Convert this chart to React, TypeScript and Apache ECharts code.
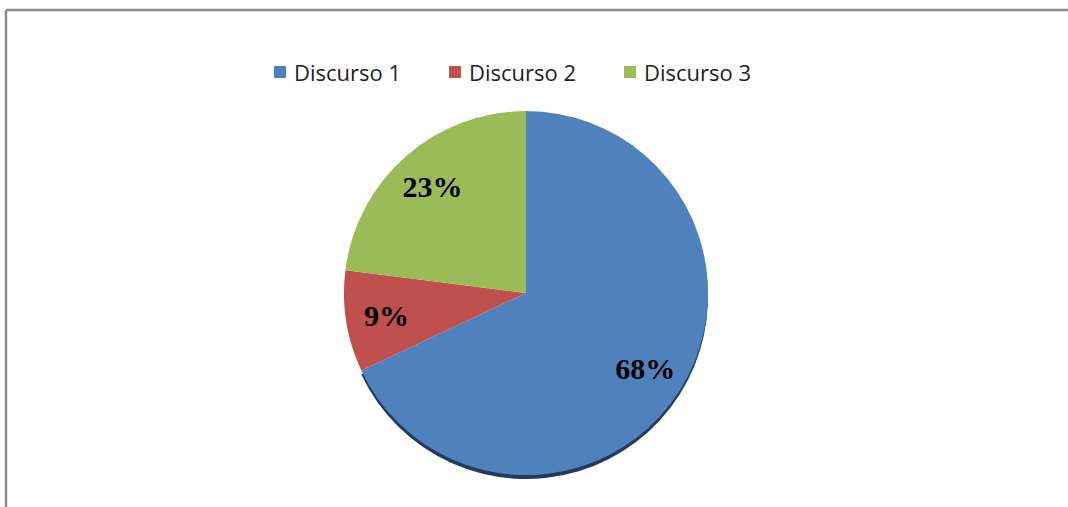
import React, { useEffect, useRef } from "react";
import * as echarts from "echarts";

const categories = ["Discurso 1", "Discurso 2", "Discurso 3"];
const values = [68, 9, 23];
const colors = ["#4F81BD", "#C0504D", "#9BBB59"];

export default function App() {
  const ref = useRef<HTMLDivElement>(null);
  useEffect(() => {
    document.body.style.margin = "0";
    const chart = echarts.init(ref.current!, undefined, { renderer: "svg" });
    const R = 182;
    const center = [526, 293];
    const pieData = categories.map((name, i) => ({
      name,
      value: values[i],
      itemStyle:
        i === 0
          ? {
              color: colors[i],
              shadowColor: "rgba(25,45,85,0.95)",
              shadowBlur: 1,
              shadowOffsetY: 4,
            }
          : { color: colors[i] },
    }));
    const labelData = categories.map((name, i) => ({ name, value: values[i] }));
    chart.setOption({
      animation: false,
      backgroundColor: "#ffffff",
      legend: {
        data: categories,
        top: 56,
        left: 269,
        itemWidth: 12,
        itemHeight: 12,
        itemGap: 48,
        icon: "rect",
        textStyle: {
          fontFamily: "Open Sans",
          fontSize: 22,
          color: "#222",
          padding: [0, 0, 0, 3],
        },
      },
      graphic: [
        {
          type: "line",
          shape: { x1: 6, y1: 10, x2: 1068, y2: 10 },
          style: { stroke: "#8c8c8c", lineWidth: 2.5 },
        },
        {
          type: "line",
          shape: { x1: 6, y1: 10, x2: 6, y2: 507 },
          style: { stroke: "#8c8c8c", lineWidth: 2.5 },
        },
      ],
      series: [
        {
          type: "pie",
          center,
          radius: [0, R],
          startAngle: 90,
          clockwise: true,
          silent: true,
          label: { show: false },
          labelLine: { show: false },
          data: pieData,
        },
        {
          type: "pie",
          center,
          radius: [R * 0.52, R],
          startAngle: 90,
          clockwise: true,
          silent: true,
          itemStyle: { color: "rgba(0,0,0,0)" },
          label: {
            show: true,
            position: "inside",
            formatter: (p: any) => `${p.value}%`,
            fontFamily: "'Liberation Serif', 'Times New Roman', serif",
            fontWeight: "bold",
            fontSize: 30,
            color: "#000",
          },
          labelLine: { show: false },
          data: labelData,
        },
      ],
    });
    return () => chart.dispose();
  }, []);
  return (
    <div
      ref={ref}
      style={{ position: "fixed", left: 0, top: 0, width: 1068, height: 507 }}
    />
  );
}
